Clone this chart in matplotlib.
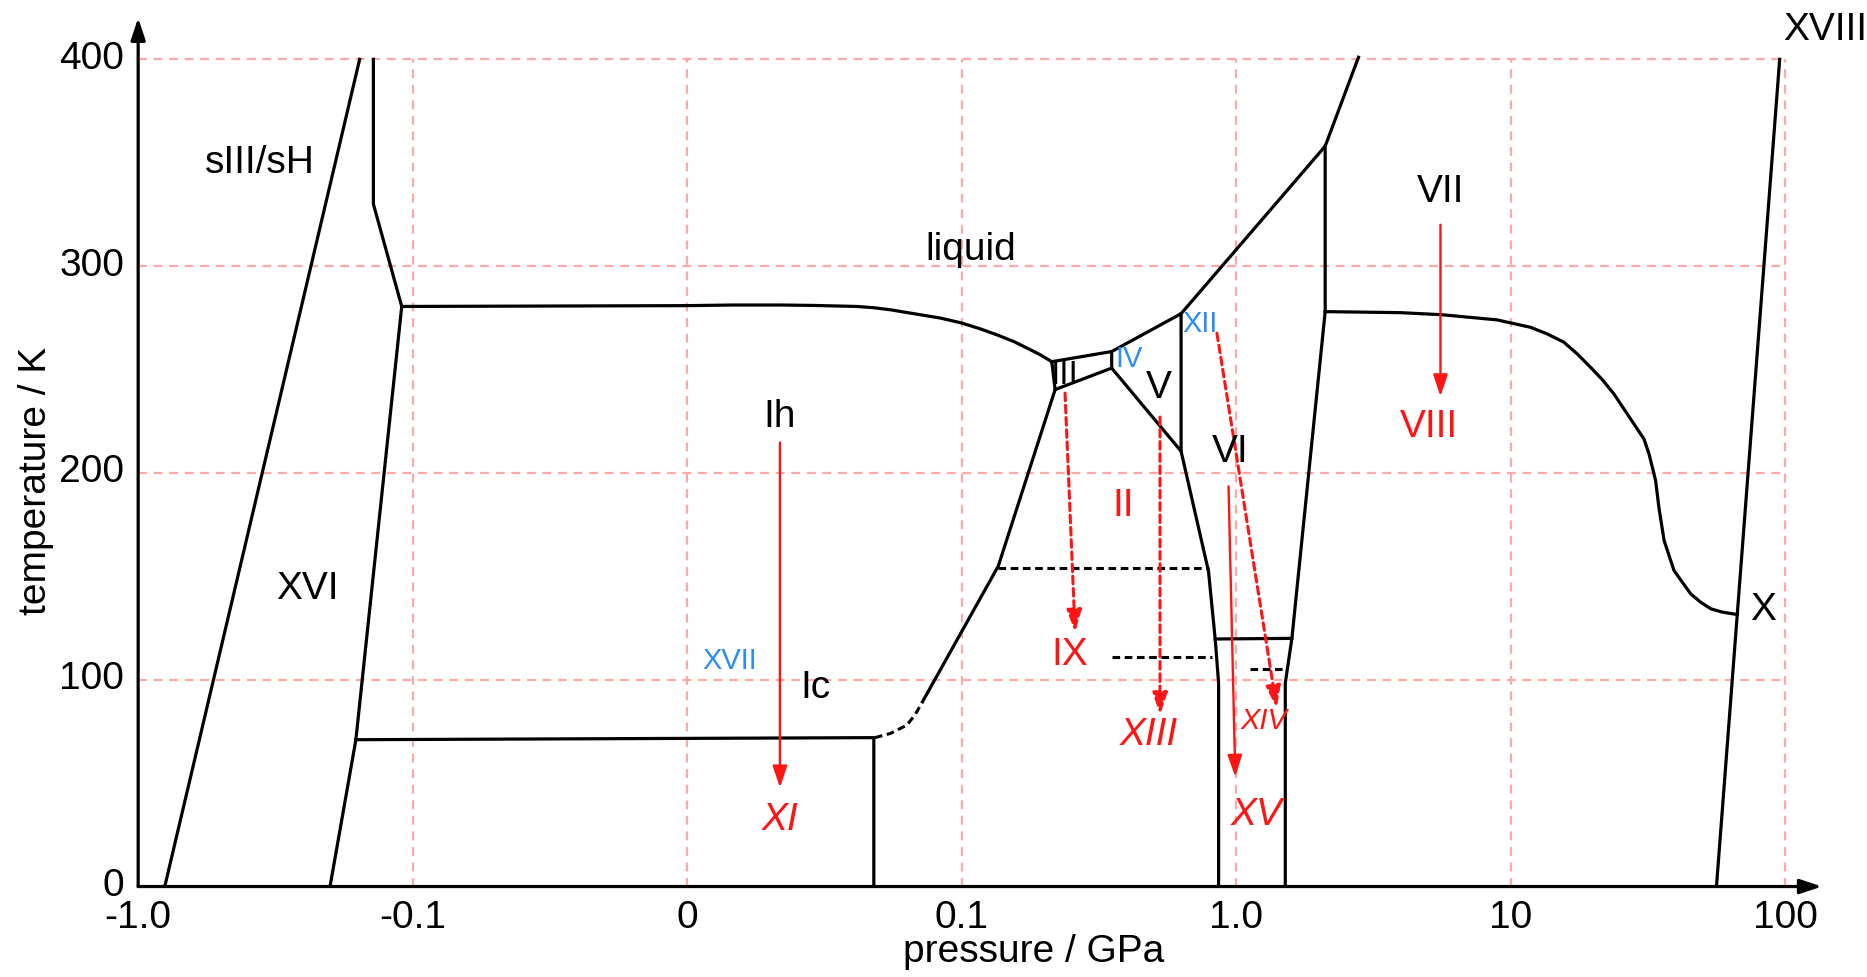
import matplotlib
matplotlib.use("Agg")
import matplotlib.pyplot as plt
import matplotlib.transforms as mtransforms
from matplotlib.ticker import NullLocator

plt.rcParams['font.family'] = ['Liberation Sans', 'DejaVu Sans']

# axis ticks
p_ticks = [-1.0, -0.1, 0, 0.1, 1.0, 10, 100]
p_tick_labels = ['-1.0', '-0.1', '0', '0.1', '1.0', '10', '100']
T_ticks = [0, 100, 200, 300, 400]
grid_p = [-0.1, 0, 0.1, 1.0, 10, 100]
grid_T = [100, 200, 300, 400]

# solid phase boundaries: (pressure / GPa, temperature / K)
sh_left = [(-0.80, 0), (-0.156, 400)]
xvi_right = [(-0.139, 400), (-0.139, 330), (-0.1096, 280.5), (-0.161, 71), (-0.200, 0)]
ih_xi = [(-0.161, 71), (0.068, 72), (0.068, 0)]
ic_ii = [(0.0858, 89.5), (0.136, 155), (0.219, 240.3)]
ih_liquid = [(-0.1096, 280.5), (0, 280.9), (0.017, 281.2), (0.0339, 281.2), (0.046, 281.0),
             (0.0618, 280.5), (0.0679, 279.9), (0.074, 278.9), (0.0849, 276.5),
             (0.0922, 274.9), (0.1, 272.5), (0.1167, 269.7), (0.1343, 266.8),
             (0.1545, 263.6), (0.173, 260.4), (0.193, 257.2), (0.213, 253.8)]
iii_box = [(0.213, 253.8), (0.219, 240.3), (0.352, 250.7), (0.352, 258.7), (0.213, 253.8)]
liquid_high = [(0.352, 258.7), (0.63, 277), (2.11, 358), (2.79, 401)]
v_left = [(0.352, 250.7), (0.63, 210.5), (0.63, 277)]
vi_right = [(2.11, 358), (2.11, 278), (1.596, 120), (1.51, 98.4), (1.51, 0)]
vi_left = [(0.63, 210.5), (0.793, 152.4), (0.839, 119.5), (0.863, 98.4), (0.863, 0)]
xv_top = [(0.839, 119.7), (1.596, 120)]
vii_viii = [(2.11, 278), (3.98, 277.5), (5.62, 276.5), (8.93, 274), (11.83, 270.4),
            (13.6, 267.2), (15.63, 263.2), (17.5, 257.5), (19.54, 251.1), (21.6, 245),
            (23.77, 238.2), (28.12, 223.7), (30.6, 216.4), (31.92, 209.2), (33.73, 196.3),
            (34.67, 183.4), (36.22, 167.3), (38.3, 157.6), (39.36, 152.8), (45.29, 141.5),
            (49.2, 137.5), (53.58, 134.3), (59.0, 132.7), (67.0, 131.5)]
vii_x = [(56.2, 0), (95.5, 400)]

solid_lines = [sh_left, xvi_right, ih_xi, ic_ii, ih_liquid, iii_box, liquid_high,
               v_left, vi_right, vi_left, xv_top, vii_viii, vii_x]

# dashed black boundaries
ic_dashed = [(0.0684, 72), (0.074, 74), (0.080, 78), (0.083, 83), (0.0858, 89.5)]
ii_ix = [(0.136, 154), (0.793, 154)]
ix_xiii = [(0.352, 111), (0.815, 111)]
xv_xiv = [(1.125, 105), (1.49, 105)]
dashed_lines = [ic_dashed, ii_ix, ix_xiii, xv_xiv]

# red ordering arrows: start, end, dashed
arrows = [
    ((0.0338, 214.7), (0.0338, 47.8), False),   # Ih -> XI
    ((5.55, 320), (5.55, 237), False),          # VII -> VIII
    ((0.938, 193.5), (0.993, 53), False),       # VI -> XV
    ((0.238, 238.6), (0.259, 123), True),       # III -> IX
    ((0.528, 227), (0.528, 83), True),          # V -> XIII
    ((0.851, 267.6), (1.406, 86.3), True),      # XII -> XIV
]

black, red, blue = 'black', '#ff1414', '#2b8ef0'
# labels: text, pressure, temperature, colour, size, style
labels = [
    ('sIII/sH', -0.361, 350, black, 28, 'normal'),
    ('XVI', -0.242, 144, black, 28, 'normal'),
    ('liquid', 0.108, 308, black, 28, 'normal'),
    ('Ih', 0.0338, 227, black, 28, 'normal'),
    ('XVII', 0.0156, 109, blue, 21, 'normal'),
    ('Ic', 0.0469, 96, black, 28, 'normal'),
    ('XI', 0.0338, 32, red, 28, 'italic'),
    ('III', 0.238, 247, black, 24, 'normal'),
    ('IV', 0.407, 255, blue, 21, 'normal'),
    ('XII', 0.741, 272, blue, 21, 'normal'),
    ('V', 0.522, 241, black, 28, 'normal'),
    ('II', 0.387, 184, red, 28, 'normal'),
    ('VI', 0.951, 210, black, 28, 'normal'),
    ('IX', 0.247, 112, red, 28, 'normal'),
    ('XIII', 0.482, 73.5, red, 28, 'italic'),
    ('XIV', 1.26, 80, red, 21, 'italic'),
    ('XV', 1.186, 34.5, red, 28, 'italic'),
    ('VII', 5.57, 336, black, 28, 'normal'),
    ('VIII', 5.05, 222, red, 28, 'normal'),
    ('X', 82.8, 133.5, black, 28, 'normal'),
]

fig = plt.figure(figsize=(18.67, 9.77), dpi=100)
ax = fig.add_axes([0.074, 0.0926, 0.9018, 0.889])
ax.set_xscale('symlog', linthresh=0.1, linscale=0.9)
ax.set_xlim(-1.0, 136)
ax.set_ylim(0, 420)

for s in ax.spines.values():
    s.set_visible(False)

# pink dashed grid
ax.hlines(grid_T, -1.0, 100, colors='#ffa8a8', lw=1.6, linestyles=(0, (4, 3)), zorder=1)
ax.vlines(grid_p, 0, 400, colors='#ffa8a8', lw=1.6, linestyles=(0, (4, 3)), zorder=1)

for line in solid_lines:
    p, T = zip(*line)
    ax.plot(p, T, color='black', lw=2.3, zorder=3, solid_joinstyle='round')
for line in dashed_lines:
    p, T = zip(*line)
    ax.plot(p, T, color='black', lw=2.2, ls=(0, (2.5, 1.5)), zorder=3)

head = '-|>,head_length=0.6,head_width=0.2'
for start, end, dashed in arrows:
    ax.annotate('', xy=end, xytext=start,
                arrowprops=dict(arrowstyle=head, color=red, lw=2.2 if dashed else 1.7,
                                ls=(0, (2.5, 1.5)) if dashed else '-',
                                mutation_scale=22, shrinkA=0, shrinkB=0), zorder=4)

for text, p, T, c, size, style in labels:
    ax.text(p, T, text, color=c, fontsize=size, style=style, ha='center', va='center', zorder=5)
ax.text(98, 414, 'XVIII', fontsize=28, ha='left', va='center')

# axis arrows
for xy in [(1, 0), (0, 1)]:
    ax.annotate('', xy=xy, xytext=(0, 0), xycoords='axes fraction',
                arrowprops=dict(arrowstyle=head, color='black', lw=2.3,
                                mutation_scale=22, shrinkA=0, shrinkB=0))

ax.set_xticks(p_ticks)
ax.set_xticklabels(p_tick_labels)
ax.xaxis.set_minor_locator(NullLocator())
ax.set_yticks(T_ticks)
ax.tick_params(length=0, labelsize=28)
ax.tick_params(axis='x', pad=10)
ax.tick_params(axis='y', pad=10)
lift = mtransforms.ScaledTranslation(0, 0.045, fig.dpi_scale_trans)
for lab in ax.get_yticklabels():
    lab.set_transform(lab.get_transform() + lift)
ax.set_xlabel('pressure / GPa', fontsize=28)
ax.set_ylabel('temperature / K', fontsize=28)
ax.xaxis.set_label_coords(0.532, -0.055)
ax.yaxis.set_label_coords(-0.05, 0.467)

fig.savefig('out.png', dpi=100)
